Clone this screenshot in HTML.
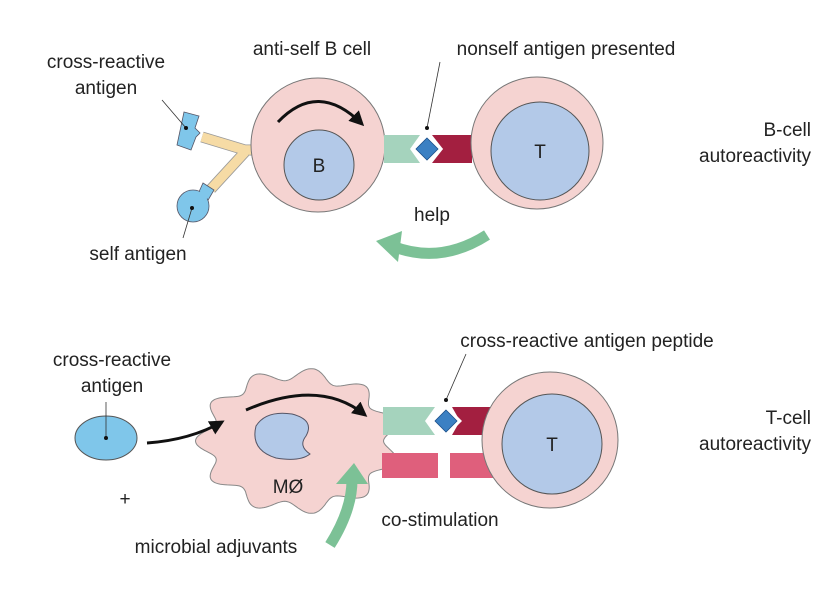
<!DOCTYPE html>
<html><head><meta charset="utf-8"><style>
body{margin:0;background:#fff}
svg{display:block}
text{font-family:"Liberation Sans","DejaVu Sans",sans-serif;font-size:19px;fill:#222}
</style></head><body>
<svg width="834" height="608" viewBox="0 0 834 608" xmlns="http://www.w3.org/2000/svg">
<defs>
<marker id="ah" viewBox="0 0 10 10" refX="8" refY="5" markerWidth="5" markerHeight="5" orient="auto"><path d="M0,0 L10,5 L0,10 z" fill="#111"/></marker>
</defs>
<!-- TOP -->
<text x="106" y="68" text-anchor="middle">cross-reactive</text>
<text x="106" y="94" text-anchor="middle">antigen</text>
<text x="312" y="55" text-anchor="middle">anti-self B cell</text>
<text x="566" y="55" text-anchor="middle">nonself antigen presented</text>
<text x="811" y="136" text-anchor="end">B-cell</text>
<text x="811" y="162" text-anchor="end">autoreactivity</text>
<text x="138" y="260" text-anchor="middle">self antigen</text>
<text x="432" y="221" text-anchor="middle">help</text>

<!-- antibody -->
<g stroke-linecap="butt" fill="none">
<path d="M202,137 L245,150 L254,150" stroke="#999" stroke-width="11"/>
<path d="M245,152 L211,189" stroke="#999" stroke-width="11"/>
<path d="M202,137 L245,150 L254,150" stroke="#f6dba5" stroke-width="9.4"/>
<path d="M245,152 L211,189" stroke="#f6dba5" stroke-width="9.4"/>
</g>
<polygon points="184,112 199,116 195,128 200,133 196,137 191,150 177,145" fill="#7fc6ea" stroke="#556" stroke-width="0.8"/>
<polygon points="203,183 214,190 207,202 198,194" fill="#7fc6ea" stroke="#556" stroke-width="0.8"/>
<circle cx="193" cy="206" r="16" fill="#7fc6ea" stroke="#556" stroke-width="0.8"/>
<polygon points="203,185 212,190 207,199 199,194" fill="#7fc6ea"/>
<line x1="162" y1="100" x2="186" y2="128" stroke="#333" stroke-width="0.8"/><circle cx="186" cy="128" r="2" fill="#111"/>
<line x1="183" y1="238" x2="192" y2="208" stroke="#333" stroke-width="0.8"/><circle cx="192" cy="208" r="2" fill="#111"/>

<circle cx="318" cy="145" r="67" fill="#f5d3d1" stroke="#777" stroke-width="1"/>
<circle cx="319" cy="165" r="35" fill="#b3c9e8" stroke="#555" stroke-width="1"/>
<text x="319" y="172" text-anchor="middle">B</text>
<path d="M278,122 Q318,80 362,124" fill="none" stroke="#111" stroke-width="3" marker-end="url(#ah)"/>

<polygon points="384,135 420,135 410,149 420,163 384,163" fill="#a5d3bd"/>
<polygon points="432,135 472,135 472,163 432,163 443,149" fill="#a31f40"/>
<polygon points="427,133 443,149 427,165 411,149" fill="#fff"/>
<polygon points="427,138 438,149 427,160 416,149" fill="#3b80c3" stroke="#1b4f8a" stroke-width="0.8"/>
<line x1="427" y1="128" x2="440" y2="62" stroke="#333" stroke-width="0.8"/><circle cx="427" cy="128" r="2" fill="#111"/>

<circle cx="537" cy="143" r="66" fill="#f5d3d1" stroke="#777" stroke-width="1"/>
<circle cx="540" cy="151" r="49" fill="#b3c9e8" stroke="#555" stroke-width="1"/>
<text x="540" y="158" text-anchor="middle">T</text>

<path d="M487,235 Q440,265 392,246" fill="none" stroke="#7cc196" stroke-width="11"/>
<polygon points="376,241 402,231 398,262" fill="#7cc196"/>

<!-- BOTTOM -->
<text x="112" y="366" text-anchor="middle">cross-reactive</text>
<text x="112" y="392" text-anchor="middle">antigen</text>
<text x="587" y="347" text-anchor="middle">cross-reactive antigen peptide</text>
<text x="811" y="424" text-anchor="end">T-cell</text>
<text x="811" y="450" text-anchor="end">autoreactivity</text>
<text x="125" y="505" text-anchor="middle">+</text>
<text x="216" y="553" text-anchor="middle">microbial adjuvants</text>
<text x="440" y="526" text-anchor="middle">co-stimulation</text>

<ellipse cx="106" cy="438" rx="31" ry="22" fill="#7fc6ea" stroke="#555" stroke-width="1"/>
<line x1="106" y1="402" x2="106" y2="438" stroke="#333" stroke-width="0.8"/><circle cx="106" cy="438" r="2" fill="#111"/>

<path id="blob" fill="#f5d3d1" stroke="#888" stroke-width="1"/>
<path d="M256,426 Q266,410 292,414 Q315,420 306,436 Q298,446 310,454 Q300,462 276,458 Q250,450 256,426 Z" fill="#b3c9e8" stroke="#556" stroke-width="1"/>
<text x="288" y="493" text-anchor="middle">MØ</text>
<path d="M147,443 Q190,440 222,422" fill="none" stroke="#111" stroke-width="3" marker-end="url(#ah)"/>
<path d="M246,410 Q320,378 365,415" fill="none" stroke="#111" stroke-width="3" marker-end="url(#ah)"/>

<polygon points="383,407 435,407 425,421 435,435 383,435" fill="#a5d3bd"/>
<polygon points="452,407 490,407 490,435 452,435 460,421" fill="#a31f40"/>
<polygon points="446,405 462,421 446,437 430,421" fill="#fff"/>
<polygon points="446,410 457,421 446,432 435,421" fill="#3b80c3" stroke="#1b4f8a" stroke-width="0.8"/>
<line x1="446" y1="400" x2="466" y2="354" stroke="#333" stroke-width="0.8"/><circle cx="446" cy="400" r="2" fill="#111"/>
<rect x="382" y="453" width="56" height="25" fill="#df5f7c"/>
<rect x="450" y="453" width="44" height="25" fill="#df5f7c"/>

<circle cx="550" cy="440" r="68" fill="#f5d3d1" stroke="#777" stroke-width="1"/>
<circle cx="552" cy="444" r="50" fill="#b3c9e8" stroke="#555" stroke-width="1"/>
<text x="552" y="451" text-anchor="middle">T</text>

<path d="M330,545 Q352,510 352,480" fill="none" stroke="#7cc196" stroke-width="11"/>
<polygon points="336,484 368,484 354,463" fill="#7cc196"/>
</svg>
<script>
(function(){
var cx=298,cy=441,rx=94,ry=67,n=11,d="";
for(var i=0;i<=360;i++){var t=i*Math.PI/180;var k=1+0.09*Math.cos(n*(t-Math.PI));
var x=cx+rx*k*Math.cos(t),y=cy+ry*k*Math.sin(t);d+=(i?"L":"M")+x.toFixed(1)+","+y.toFixed(1);}
document.getElementById("blob").setAttribute("d",d+"Z");
})();
</script>
</body></html>
